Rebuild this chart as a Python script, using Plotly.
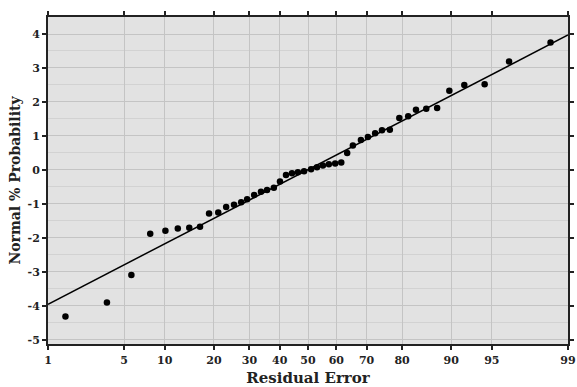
import plotly.graph_objects as go
from statistics import NormalDist

nd = NormalDist()

def zq(p):
    return nd.inv_cdf(p / 100.0)

# Data
prob_pct = [1.5, 3.6, 5.7, 7.9, 10.1, 12.2, 14.4, 16.7, 18.8, 21.1,
            23.2, 25.4, 27.5, 29.3, 31.5, 33.7, 35.7, 38.0, 40.1, 42.2,
            44.3, 46.4, 48.6, 51.1, 53.2, 55.3, 57.4, 59.6, 61.7, 63.7,
            65.6, 68.2, 70.4, 72.6, 74.6, 76.8, 79.3, 81.5, 83.3, 85.5,
            87.6, 89.7, 91.9, 94.3, 96.4, 98.5]
values = [-4.31, -3.90, -3.09, -1.88, -1.79, -1.72, -1.70, -1.67, -1.28, -1.25,
          -1.09, -1.02, -0.95, -0.86, -0.74, -0.64, -0.59, -0.52, -0.34, -0.15,
          -0.10, -0.07, -0.04, 0.02, 0.08, 0.13, 0.17, 0.19, 0.22, 0.50,
          0.72, 0.88, 0.97, 1.08, 1.17, 1.18, 1.53, 1.58, 1.77, 1.80,
          1.82, 2.33, 2.50, 2.52, 3.19, 3.75]

fit_pct = [1, 99]
fit_val = [-3.95, 3.97]

x_ticks = [1, 5, 10, 20, 30, 40, 50, 60, 70, 80, 90, 95, 99]
y_ticks = [-5, -4, -3, -2, -1, 0, 1, 2, 3, 4]

font_family = "DejaVu Serif"

fig = go.Figure()
fig.add_trace(go.Scatter(
    x=[zq(p) for p in fit_pct], y=fit_val, mode="lines",
    line=dict(color="black", width=1.5), showlegend=False, hoverinfo="skip"))
fig.add_trace(go.Scatter(
    x=[zq(p) for p in prob_pct], y=values, mode="markers",
    marker=dict(color="black", size=6.5), showlegend=False))

axis_common = dict(
    showline=True, linecolor="#222222", linewidth=2, mirror="allticks",
    ticks="outside", ticklen=4, tickwidth=2, tickcolor="#222222",
    showgrid=True, gridcolor="#c4c4c4", gridwidth=1, zeroline=False,
    automargin=False,
    tickfont=dict(family=font_family, size=11, color="#222222", weight="bold"),
)

fig.update_xaxes(
    range=[zq(1), zq(99)],
    tickmode="array", tickvals=[zq(t) for t in x_ticks],
    ticktext=[str(t) for t in x_ticks],
    ticklabelstandoff=1,
    title=dict(text="Residual Error", standoff=10,
               font=dict(family=font_family, size=15, color="#222222", weight="bold")),
    **axis_common)
fig.update_yaxes(
    range=[-5.12, 4.5],
    tickmode="array", tickvals=y_ticks, ticktext=[str(t) for t in y_ticks],
    minor=dict(dtick=0.5, showgrid=True, gridcolor="#d2d2d2", ticks=""),
    title=dict(text="Normal % Probability", standoff=4,
               font=dict(family=font_family, size=14, color="#222222", weight="bold")),
    **axis_common)

fig.update_layout(
    width=577, height=387,
    margin=dict(l=48, r=9, t=17, b=43),
    paper_bgcolor="white", plot_bgcolor="#e2e2e2",
)

fig.write_html("out.html")
